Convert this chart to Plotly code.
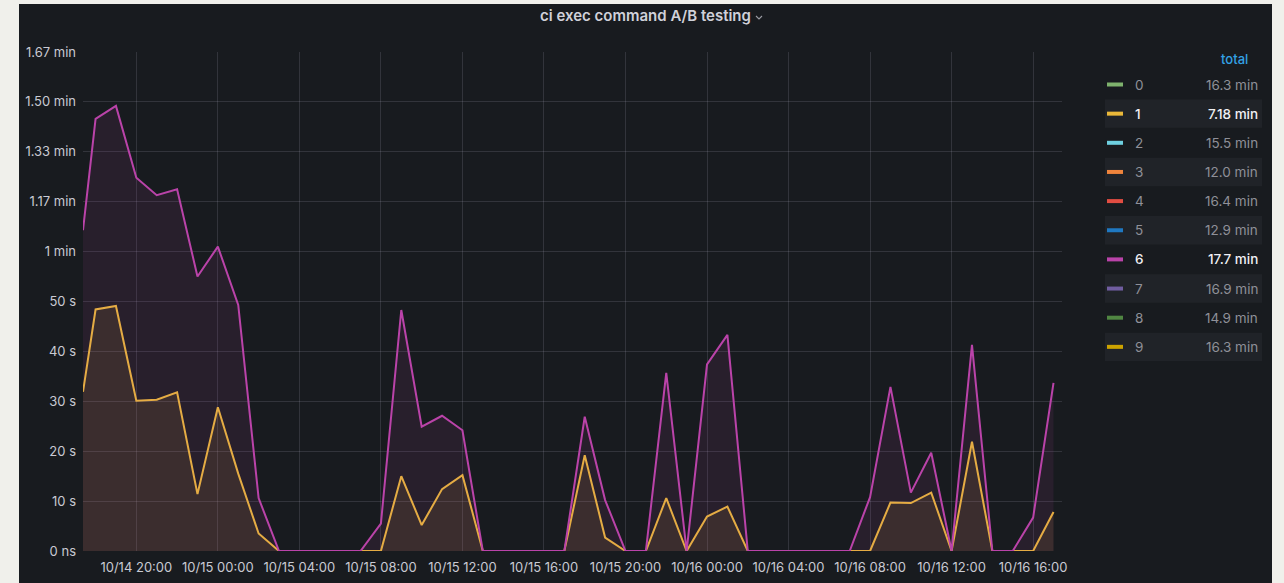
import plotly.graph_objects as go

# ---------------- data ----------------
times = ["2023-10-14 17:23"] + [
    f"2023-10-{d} {h:02d}:00"
    for d, hrs in (("14", range(18, 24)), ("15", range(0, 24)), ("16", range(0, 18)))
    for h in hrs
]

series6 = [64.3, 86.6, 89.2, 74.8, 71.3, 72.5, 55.0,
           61.0, 49.3, 10.6, 0, 0, 0, 0, 0, 5.5, 48.3, 24.9, 27.1, 24.2, 0, 0, 0, 0, 0,
           26.9, 10.2, 0, 0, 35.7, 0,
           37.4, 43.3, 0, 0, 0, 0, 0, 0, 10.8, 32.9, 11.7, 19.7, 0, 41.3, 0, 0, 6.7, 33.7]

series1 = [31.9, 48.4, 49.1, 30.1, 30.3, 31.8, 11.4,
           28.8, 15.5, 3.5, 0, 0, 0, 0, 0, 0, 15.0, 5.2, 12.4, 15.2, 0, 0, 0, 0, 0,
           19.2, 2.7, 0, 0, 10.6, 0,
           6.9, 8.9, 0, 0, 0, 0, 0, 0, 0, 9.7, 9.6, 11.7, 0, 21.9, 0, 0, 0, 7.8]

y_tickvals = [0, 10, 20, 30, 40, 50, 60, 70, 80, 90, 100]
y_ticktext = ["0 ns", "10 s", "20 s", "30 s", "40 s", "50 s", "1 min",
              "1.17 min", "1.33 min", "1.50 min", "1.67 min"]

legend_names = ["0", "1", "2", "3", "4", "5", "6", "7", "8", "9"]
legend_totals = ["16.3 min", "7.18 min", "15.5 min", "12.0 min", "16.4 min",
                 "12.9 min", "17.7 min", "16.9 min", "14.9 min", "16.3 min"]
legend_colors = ["#7EB26D", "#EAB839", "#6ED0E0", "#EF843C", "#E24D42",
                 "#1F78C1", "#BA43A9", "#705DA0", "#508642", "#CCA300"]
legend_visible = [False, True, False, False, False, False, True, False, False, False]

title = "ci exec command A/B testing"

# ---------------- layout helpers ----------------
W, H = 1284, 583
L, R, T, B = 83, 222, 52, 32
PW, PH = W - L - R, H - T - B

def px(x):
    return (x - L) / PW

def py(y):
    return (H - B - y) / PH

PANEL = "#181b1f"
TXT = "#c9cad3"
FONT = "Inter"

fig = go.Figure()

fig.add_trace(go.Scatter(
    x=times, y=series1, mode="lines", name="1",
    line=dict(color=legend_colors[1], width=2),
    fill="tozeroy", fillcolor="rgba(234,184,57,0.10)",
    hoverinfo="skip"))
fig.add_trace(go.Scatter(
    x=times, y=series6, mode="lines", name="6",
    line=dict(color=legend_colors[6], width=2),
    fill="tozeroy", fillcolor="rgba(186,67,169,0.10)",
    hoverinfo="skip"))

shapes = [
    dict(type="rect", xref="paper", yref="paper", layer="below",
         x0=px(19), x1=px(1272), y0=py(590), y1=py(4),
         fillcolor=PANEL, line=dict(width=0)),
    # title chevron
    dict(type="path", xref="paper", yref="paper",
         path=f"M {px(756)} {py(16)} L {px(759)} {py(19)} L {px(762)} {py(16)}",
         line=dict(color="#9a9ba3", width=1.1)),
]
annotations = [
    dict(text=title, x=px(645), y=py(15.5), xref="paper", yref="paper",
         xanchor="center", yanchor="middle", showarrow=False,
         font=dict(family=FONT, size=15, color="#d0d1d9", weight=600)),
    dict(text="total", x=px(1250), y=py(59), xref="paper", yref="paper",
         xanchor="right", yanchor="middle", showarrow=False,
         font=dict(family=FONT, size=13, color="#33a2e5", weight=500)),
]

row0, rowh = 84.5, 29.15
for i, (nm, tot, col, vis) in enumerate(zip(legend_names, legend_totals, legend_colors, legend_visible)):
    cy = row0 + i * rowh
    if i % 2 == 1:
        shapes.append(dict(type="rect", xref="paper", yref="paper", layer="below",
                           x0=px(1105), x1=px(1262), y0=py(cy + 14.2), y1=py(cy - 14.2),
                           fillcolor="rgba(204,204,220,0.05)", line=dict(width=0)))
    shapes.append(dict(type="rect", xref="paper", yref="paper",
                       x0=px(1107), x1=px(1123), y0=py(cy + 2), y1=py(cy - 2),
                       fillcolor=col, line=dict(width=0)))
    tc = "#f0f0f4" if vis else "#8f9098"
    wt = 500 if vis else 400
    annotations.append(dict(text=nm, x=px(1133), y=py(cy), xref="paper", yref="paper",
                            xanchor="left", yanchor="middle", showarrow=False,
                            font=dict(family=FONT, size=13.5, color=tc, weight=wt)))
    annotations.append(dict(text=tot, x=px(1260), y=py(cy), xref="paper", yref="paper",
                            xanchor="right", yanchor="middle", showarrow=False,
                            font=dict(family=FONT, size=13.5, color=tc, weight=wt)))

grid = "rgba(204,204,220,0.15)"
fig.update_layout(
    width=W, height=H,
    margin=dict(l=L, r=R, t=T, b=B, pad=0, autoexpand=False),
    paper_bgcolor="#f0f0eb",
    plot_bgcolor=PANEL,
    showlegend=False,
    shapes=shapes,
    annotations=annotations,
    font=dict(family=FONT, size=13, color=TXT),
    xaxis=dict(
        type="date",
        range=["2023-10-14 17:23", "2023-10-16 17:25"],
        tickvals=[f"2023-10-{d} {h:02d}:00" for d, h in
                  [("14", 20), ("15", 0), ("15", 4), ("15", 8), ("15", 12), ("15", 16),
                   ("15", 20), ("16", 0), ("16", 4), ("16", 8), ("16", 12), ("16", 16)]],
        tickformat="%m/%d %H:%M",
        showgrid=True, gridcolor=grid, gridwidth=1,
        zeroline=False, showline=False, ticks="",
        tickfont=dict(family=FONT, size=13, color=TXT),
        ticklabelstandoff=7,
        automargin=False,
        fixedrange=True,
    ),
    yaxis=dict(
        range=[0, 100],
        tickvals=y_tickvals, ticktext=y_ticktext,
        showgrid=True, gridcolor=grid, gridwidth=1,
        zeroline=False, showline=False, ticks="",
        tickfont=dict(family=FONT, size=13, color=TXT),
        ticklabelstandoff=6,
        automargin=False,
        fixedrange=True,
    ),
)

fig.write_html(
    "out.html",
    config={"displayModeBar": False, "staticPlot": True},
    post_script="document.body.style.margin='0';document.body.style.overflow='hidden';",
)
